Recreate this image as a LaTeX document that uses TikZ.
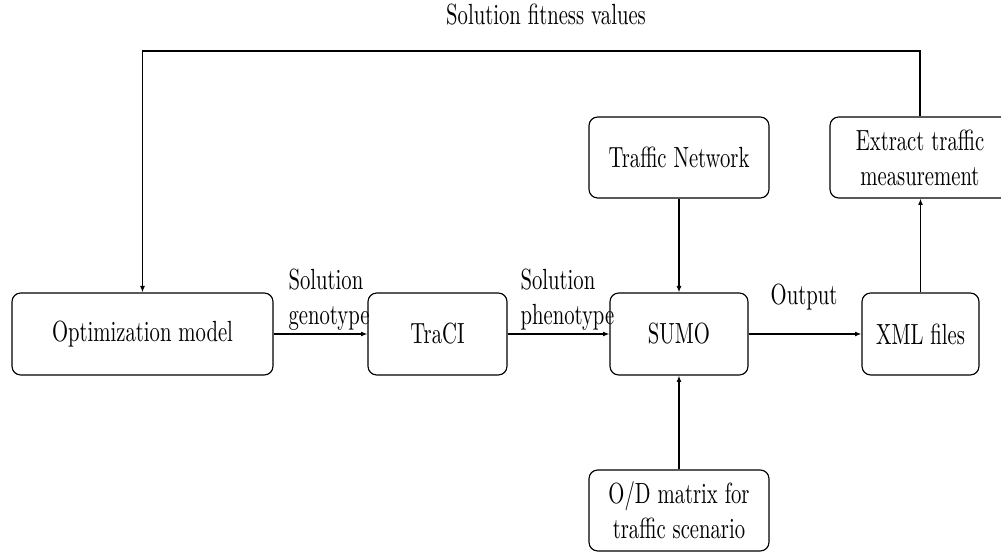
\documentclass[tikz,border=0pt]{standalone}
\usepackage{fontspec}
\setmainfont{lmroman10-regular}[Extension=.otf, FakeStretch=0.709]
\usetikzlibrary{arrows.meta}
\newcommand\pxs{0.3429pt}
\tikzset{
  box/.style={draw, rounded corners=3pt, inner sep=0pt, align=center, line width=0.4pt},
  arr/.style={-{Latex[length=2.2pt,width=1.7pt]}, line width=0.4pt},
  lbl/.style={inner sep=0pt, align=left}
}
\begin{document}
\begin{tikzpicture}[x=0.3429pt, y=-0.3429pt]
\useasboundingbox (0,0) rectangle (1001,552);
\node[box, minimum width={261*\pxs}, minimum height={82*\pxs}] (opt) at (142.5,334) {Optimization model};
\node[box, minimum width={139*\pxs}, minimum height={82*\pxs}] (traci) at (437.5,334) {TraCI};
\node[box, minimum width={138*\pxs}, minimum height={82*\pxs}] (sumo) at (679,334) {SUMO};
\node[box, minimum width={117*\pxs}, minimum height={82*\pxs}] (xml) at (920.5,334) {XML files};
\node[box, minimum width={180*\pxs}, minimum height={81*\pxs}] (tn) at (679,157.5) {Traffic Network};
\node[box, minimum width={180*\pxs}, minimum height={81*\pxs}] (ext) at (920,157.5) {Extract traffic\\measurement};
\node[box, minimum width={180*\pxs}, minimum height={81*\pxs}] (od) at (679,510.5) {O/D matrix for\\traffic scenario};
\coordinate (tl) at (142.5,51);
\draw[arr] (opt) -- (traci);
\draw[arr] (traci) -- (sumo);
\draw[arr] (sumo) -- (xml);
\draw[arr] (tn) -- (sumo);
\draw[arr] (od) -- (sumo);
\draw[arr] (xml.north) -- (xml.north |- ext.south);
\draw[arr] (ext.north) |- (tl) -- (opt.north);
\node[lbl, anchor=north west] (geno) at (288,268) {Solution\\genotype};
\node[lbl, anchor=north west] (pheno) at (520,268) {Solution\\phenotype};
\node[lbl, anchor=base] (out) at (804,305) {Output};
\node[lbl, anchor=base] (fit) at (546,25) {Solution fitness values};
\end{tikzpicture}
\end{document}
